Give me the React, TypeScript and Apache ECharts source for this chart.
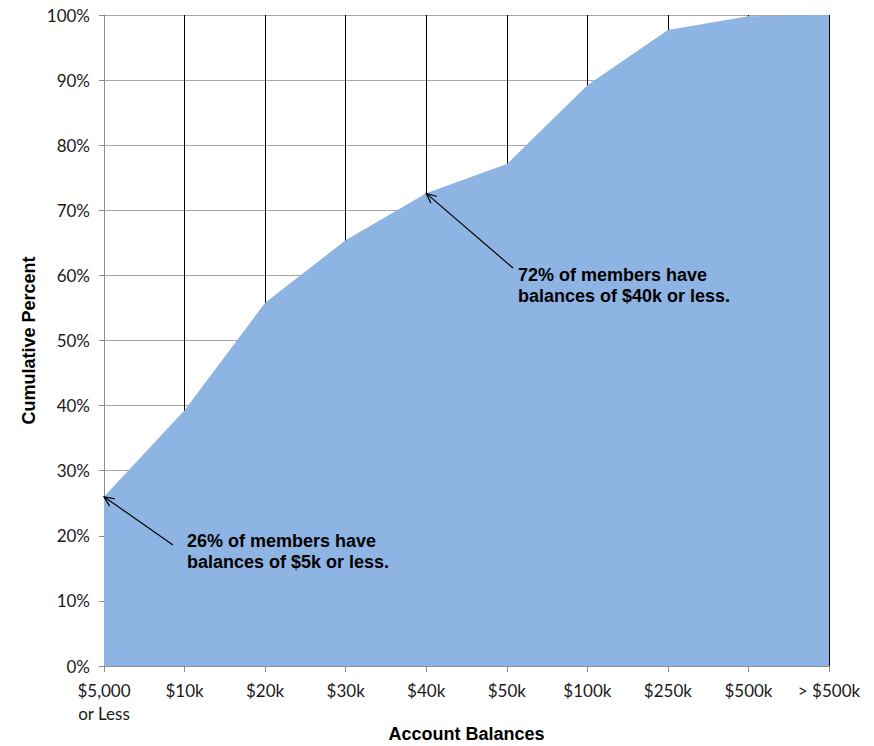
import React, { useEffect, useRef } from "react";
import * as echarts from "echarts";

const categories = ["$5,000\nor Less", "$10k", "$20k", "$30k", "$40k", "$50k", "$100k", "$250k", "$500k", "> $500k"];
const cumulativePercent = [26, 39.3, 55.8, 65.4, 72.6, 77.1, 89.2, 97.7, 99.8, 100];
const yTicks = [0, 10, 20, 30, 40, 50, 60, 70, 80, 90, 100];
const annotations = [
  { index: 0, lines: ["26% of members have", "balances of $5k or less."], textX: 187, textY: 530, tailX: 173, tailY: 545 },
  { index: 4, lines: ["72% of members have", "balances of $40k or less."], textX: 518, textY: 264, tailX: 513, tailY: 268 },
];

function arrow(x1: number, y1: number, x2: number, y2: number) {
  const ang = Math.atan2(y2 - y1, x2 - x1);
  const len = 11;
  const spread = 0.42;
  const a1 = ang + Math.PI - spread;
  const a2 = ang + Math.PI + spread;
  const style = { stroke: "#000", lineWidth: 1.2, fill: null };
  return [
    { type: "line", shape: { x1, y1, x2, y2 }, style, z: 100 },
    {
      type: "polyline",
      shape: {
        points: [
          [x2 + len * Math.cos(a1), y2 + len * Math.sin(a1)],
          [x2, y2],
          [x2 + len * Math.cos(a2), y2 + len * Math.sin(a2)],
        ],
      },
      style,
      z: 100,
    },
  ];
}

export default function App() {
  const ref = useRef<HTMLDivElement>(null);
  useEffect(() => {
    document.body.style.margin = "0";
    const chart = echarts.init(ref.current!, null, { renderer: "svg" });
    const labelFont = { fontFamily: "Lato", fontSize: 17, color: "#1a1a1a" };
    chart.setOption({
      animation: false,
      backgroundColor: "#fff",
      grid: { left: 104, right: 45, top: 15, bottom: 80, containLabel: false, outerBoundsMode: "none" },
      xAxis: {
        type: "category",
        data: categories,
        boundaryGap: false,
        name: "Account Balances",
        nameLocation: "middle",
        nameGap: 59,
        nameMoveOverlap: false,
        nameTextStyle: { fontFamily: "Liberation Sans", fontWeight: "bold", fontSize: 18, color: "#000" },
        axisLine: { show: true, lineStyle: { color: "#8c8c8c", width: 1 } },
        axisTick: { show: true, alignWithLabel: true, length: 6, lineStyle: { color: "#8c8c8c" } },
        axisLabel: { ...labelFont, margin: 13, lineHeight: 23, interval: 0 },
        splitLine: { show: true, lineStyle: { color: "#000", width: 1 } },
      },
      yAxis: {
        type: "value",
        min: 0,
        max: 100,
        interval: 10,
        name: "Cumulative Percent",
        nameLocation: "middle",
        nameGap: 66,
        nameRotate: 90,
        nameMoveOverlap: false,
        nameTextStyle: { fontFamily: "Liberation Sans", fontWeight: "bold", fontSize: 18, color: "#000" },
        axisLine: { show: true, lineStyle: { color: "#8c8c8c", width: 1 } },
        axisTick: { show: true, length: 5, lineStyle: { color: "#8c8c8c" } },
        axisLabel: {
          ...labelFont,
          margin: 14,
          formatter: (v: number) => (yTicks.includes(v) ? `${v}%` : ""),
        },
        splitLine: { show: true, lineStyle: { color: "#a6a6a6", width: 1 } },
      },
      series: [
        {
          type: "line",
          data: cumulativePercent,
          symbol: "none",
          lineStyle: { width: 0, color: "#8eb4e3" },
          areaStyle: { color: "#8eb4e3", opacity: 1 },
          z: 3,
        },
      ],
    });
    const graphics: any[] = [];
    annotations.forEach((a) => {
      const tip = chart.convertToPixel({ gridIndex: 0 }, [a.index, cumulativePercent[a.index]]) as number[];
      graphics.push(...arrow(a.tailX, a.tailY, tip[0], tip[1]));
      graphics.push({
        type: "text",
        x: a.textX,
        y: a.textY,
        z: 100,
        style: {
          text: a.lines.join("\n"),
          fontFamily: "Liberation Sans",
          fontWeight: "bold",
          fontSize: 18,
          lineHeight: 21,
          fill: "#000",
        },
      });
    });
    chart.setOption({ graphic: graphics });
    return () => chart.dispose();
  }, []);
  return <div ref={ref} style={{ width: 874, height: 746 }} />;
}
